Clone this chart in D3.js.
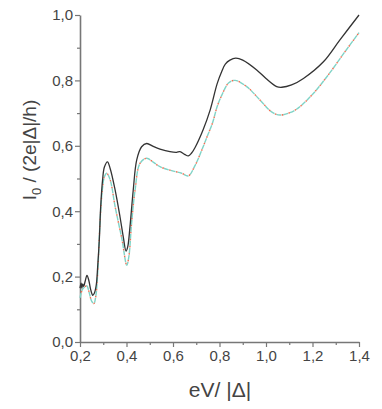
<!DOCTYPE html>
<html>
<head>
<meta charset="utf-8">
<script src="https://cdn.jsdelivr.net/npm/d3@7"></script>
<style>
  body { margin: 0; background: #fff; }
  svg { display: block; font-family: Arial, "Liberation Sans", sans-serif; }
</style>
</head>
<body>
<svg id="chart" width="382" height="409"></svg>
<script>
// eV/|Δ| values and normalized current
const solidX = [0.200, 0.205, 0.208, 0.212, 0.216, 0.222, 0.230, 0.238, 0.246, 0.255, 0.262, 0.270, 0.276, 0.283, 0.289, 0.297, 0.305, 0.318, 0.330, 0.351, 0.372, 0.386, 0.398, 0.405, 0.415, 0.429, 0.444, 0.465, 0.487, 0.515, 0.544, 0.587, 0.615, 0.630, 0.650, 0.666, 0.680, 0.695, 0.730, 0.760, 0.790, 0.810, 0.825, 0.845, 0.870, 0.900, 0.960, 1.000, 1.046, 1.068, 1.110, 1.161, 1.247, 1.318, 1.400];
const solidY = [0.165, 0.180, 0.165, 0.178, 0.170, 0.185, 0.204, 0.188, 0.160, 0.143, 0.150, 0.175, 0.230, 0.312, 0.414, 0.495, 0.535, 0.551, 0.530, 0.465, 0.383, 0.322, 0.278, 0.290, 0.353, 0.465, 0.557, 0.597, 0.607, 0.598, 0.590, 0.582, 0.580, 0.582, 0.574, 0.569, 0.578, 0.595, 0.650, 0.710, 0.790, 0.828, 0.850, 0.862, 0.868, 0.862, 0.832, 0.806, 0.781, 0.779, 0.786, 0.806, 0.857, 0.924, 1.000];

const dashX = [0.200, 0.210, 0.220, 0.229, 0.240, 0.250, 0.260, 0.268, 0.276, 0.286, 0.296, 0.305, 0.315, 0.330, 0.351, 0.381, 0.401, 0.410, 0.422, 0.437, 0.458, 0.487, 0.515, 0.544, 0.594, 0.637, 0.666, 0.695, 0.720, 0.745, 0.770, 0.790, 0.810, 0.840, 0.867, 0.917, 0.974, 1.024, 1.060, 1.125, 1.197, 1.268, 1.340, 1.400];
const dashY = [0.135, 0.160, 0.168, 0.172, 0.150, 0.125, 0.118, 0.140, 0.210, 0.364, 0.465, 0.505, 0.516, 0.495, 0.414, 0.312, 0.235, 0.260, 0.364, 0.465, 0.546, 0.562, 0.550, 0.536, 0.524, 0.516, 0.508, 0.540, 0.580, 0.625, 0.670, 0.720, 0.755, 0.793, 0.800, 0.781, 0.740, 0.704, 0.694, 0.709, 0.755, 0.817, 0.888, 0.946];

const xTicks = [0.2, 0.4, 0.6, 0.8, 1.0, 1.2, 1.4];
const xMinor = [0.3, 0.5, 0.7, 0.9, 1.1, 1.3];
const yTicks = [0.0, 0.2, 0.4, 0.6, 0.8, 1.0];
const yMinor = [0.1, 0.3, 0.5, 0.7, 0.9];

const svg = d3.select('#chart');
const axisColor = '#777';
const textColor = '#444';

const x = d3.scaleLinear().domain([0.2, 1.4]).range([80, 359]);
const y = d3.scaleLinear().domain([0, 1]).range([342, 15]);

const fmt = d => d.toFixed(1).replace('.', ',');

// minor ticks first, so major axis sits on top
svg.append('g')
  .attr('transform', 'translate(0,342)')
  .call(d3.axisBottom(x).tickValues(xMinor).tickSize(3).tickFormat(''))
  .call(g => g.select('.domain').remove())
  .call(g => g.selectAll('line').attr('stroke', axisColor).attr('stroke-width', 1.2));

svg.append('g')
  .attr('transform', 'translate(80,0)')
  .call(d3.axisLeft(y).tickValues(yMinor).tickSize(3).tickFormat(''))
  .call(g => g.select('.domain').remove())
  .call(g => g.selectAll('line').attr('stroke', axisColor).attr('stroke-width', 1.2));

const xAxis = svg.append('g')
  .attr('transform', 'translate(0,342)')
  .call(d3.axisBottom(x).tickValues(xTicks).tickSize(5).tickSizeOuter(0).tickPadding(3).tickFormat(fmt));

const yAxis = svg.append('g')
  .attr('transform', 'translate(80,0)')
  .call(d3.axisLeft(y).tickValues(yTicks).tickSize(5).tickSizeOuter(0).tickPadding(2).tickFormat(fmt));

[xAxis, yAxis].forEach(g => {
  g.select('.domain').attr('stroke', axisColor).attr('stroke-width', 1.6);
  g.selectAll('.tick line').attr('stroke', axisColor).attr('stroke-width', 1.2);
  g.selectAll('text').attr('fill', textColor).style('font-size', '15px').style('font-family', 'Arial, "Liberation Sans", sans-serif');
});

const line = d3.line()
  .x(d => x(d[0]))
  .y(d => y(d[1]))
  .curve(d3.curveCatmullRom.alpha(0.5));

const solid = solidX.map((v, i) => [v, solidY[i]]);
const dashed = dashX.map((v, i) => [v, dashY[i]]);

svg.append('path')
  .datum(dashed)
  .attr('fill', 'none')
  .attr('stroke', '#7fd3c6')
  .attr('stroke-width', 1.4)
  .attr('stroke-dasharray', '5,2')
  .attr('d', line);

svg.append('path')
  .datum(dashed)
  .attr('fill', 'none')
  .attr('stroke', '#ee6f52')
  .attr('stroke-width', 1.4)
  .attr('stroke-dasharray', '1.5,5.5')
  .attr('stroke-dashoffset', -5.5)
  .attr('d', line);

svg.append('path')
  .datum(solid)
  .attr('fill', 'none')
  .attr('stroke', '#333')
  .attr('stroke-width', 1.3)
  .attr('d', line);

// axis titles
svg.append('text')
  .attr('x', 220)
  .attr('y', 397)
  .attr('text-anchor', 'middle')
  .attr('fill', textColor)
  .style('font-size', '21px')
  .text('eV/ |Δ|');

const yl = svg.append('text')
  .attr('transform', 'translate(36,150) rotate(-90)')
  .attr('text-anchor', 'middle')
  .attr('fill', textColor)
  .style('font-size', '19px');
yl.append('tspan').text('I');
yl.append('tspan').attr('dy', 5).style('font-size', '13px').text('0');
yl.append('tspan').attr('dy', -5).text(' / (2e|Δ|/h)');
</script>
</body>
</html>
